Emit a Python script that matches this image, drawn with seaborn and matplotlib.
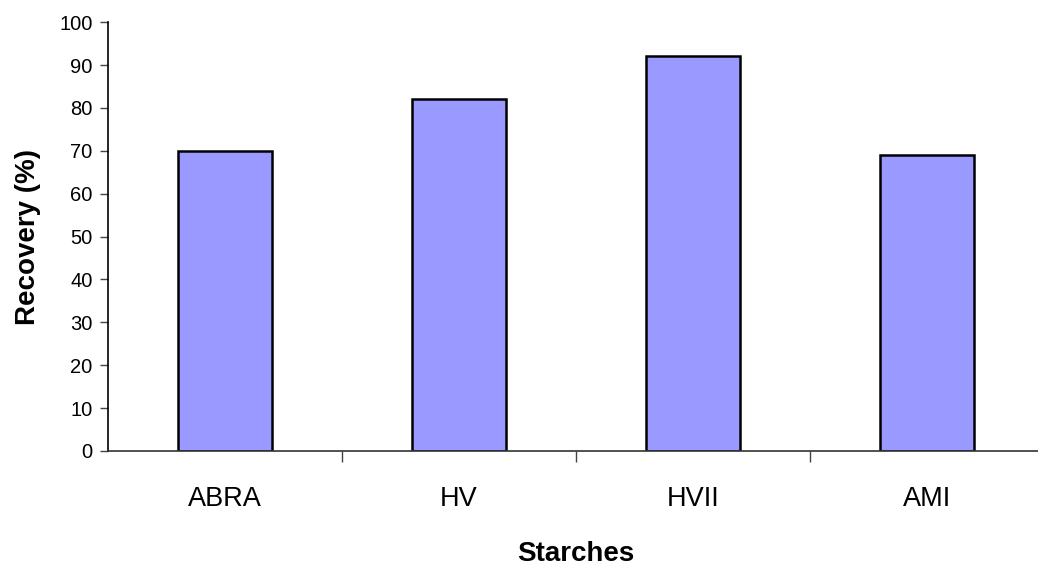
import numpy as np
import pandas as pd
import matplotlib
matplotlib.use("Agg")
import matplotlib.pyplot as plt
import seaborn as sns

# datos
starches = ["ABRA", "HV", "HVII", "AMI"]
recovery = [70, 82, 92, 69]

df = pd.DataFrame({"Starches": starches, "Recovery": recovery})

sns.set_style("white")
plt.rcParams['font.family'] = ['Liberation Sans', 'DejaVu Sans']
plt.rcParams['text.color'] = 'black'
plt.rcParams['axes.labelcolor'] = 'black'
plt.rcParams['xtick.labelcolor'] = 'black'
plt.rcParams['ytick.labelcolor'] = 'black'

fig = plt.figure(figsize=(10.38, 5.68), dpi=100)
ax = fig.add_axes([0.104, 0.206, 0.9017, 0.755])

sns.barplot(data=df, x="Starches", y="Recovery", color="#9999FF",
            saturation=1, width=0.4, edgecolor="black", linewidth=1.8, ax=ax)

ax.set_xlim(-0.5, 3.5)
ax.set_ylim(0, 100)
ax.set_yticks(np.arange(0, 101, 10))
ax.tick_params(axis="y", labelsize=14.5, length=6, width=1, color="#444444", direction="out", left=True, pad=5)
ax.tick_params(axis="x", which="major", length=0, labelsize=19.5, pad=25)
ax.set_xticks([0.5, 1.5, 2.5], minor=True)
ax.tick_params(axis="x", which="minor", length=8, width=1, color="#444444", direction="out", bottom=True)

for s in ["top", "right"]:
    ax.spines[s].set_visible(False)
ax.spines["left"].set_color("black")
ax.spines["bottom"].set_color("#333333")
ax.spines["left"].set_linewidth(1.2)
ax.spines["bottom"].set_linewidth(1.2)

ax.set_xlabel("Starches", fontsize=20, fontweight="bold", labelpad=21)
ax.set_ylabel("Recovery (%)", fontsize=20, fontweight="bold", labelpad=13)

fig.savefig("out.png", dpi=100)
